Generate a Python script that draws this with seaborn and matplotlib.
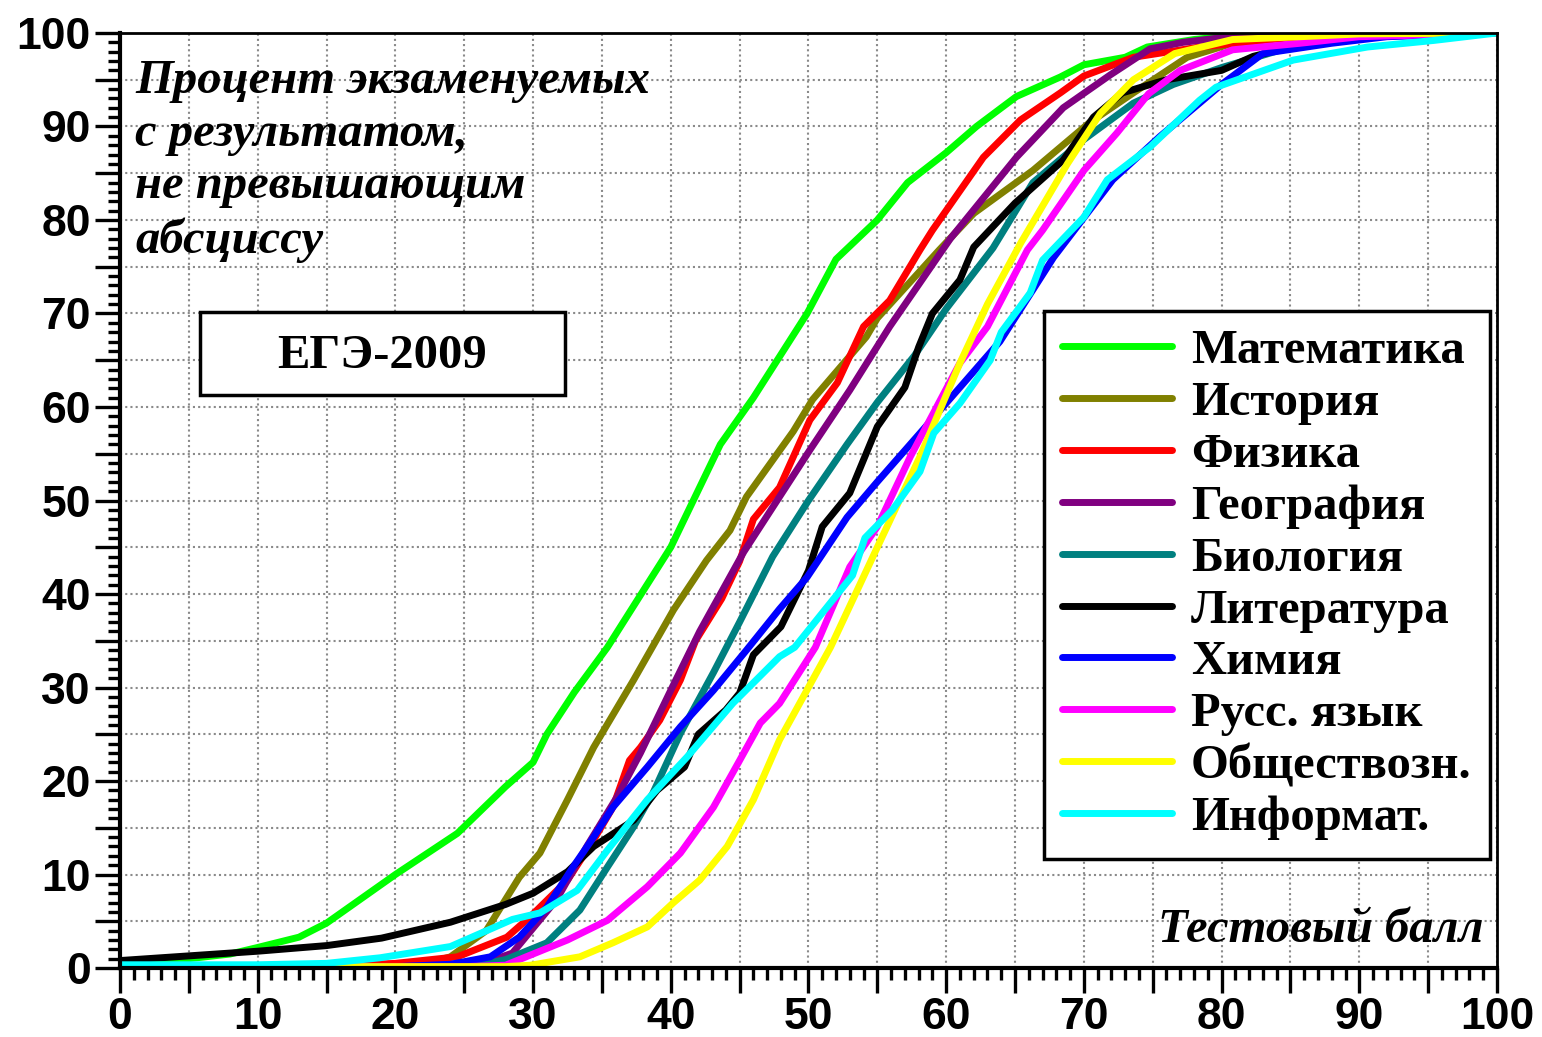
import matplotlib
matplotlib.use("Agg")
from matplotlib import pyplot as plt
from matplotlib.patches import Rectangle
from matplotlib.ticker import MultipleLocator
import seaborn as sns

# --- data (score -> % of examinees with score <= x) ---
subjects = ["Математика", "История", "Физика", "География", "Биология",
            "Литература", "Химия", "Русс. язык", "Обществозн.", "Информат."]
colors = ["#00ff00", "#808000", "#ff0000", "#800080", "#008080",
          "#000000", "#0000ff", "#ff00ff", "#ffff00", "#00ffff"]

math_x = [0, 5, 8, 10, 13, 15, 20, 24.5, 28, 30, 31, 33, 35.4, 40, 43.6, 46, 49.9, 52, 55, 57.2,
          60, 62.2, 65.1, 68.3, 70, 73, 74.6, 78, 80, 85, 90, 100]
math_y = [0.5, 1.0, 1.5, 2.2, 3.3, 4.8, 10.0, 14.4, 19.4, 22, 25, 29.5, 34.3, 45, 56, 61, 70, 75.8, 80, 84,
          87.2, 90, 93.2, 95.3, 96.6, 97.4, 98.5, 99.3, 99.6, 99.9, 100, 100]

hist_x = [0, 20, 22, 24, 26.6, 29, 30.5, 32.5, 34.4, 37.3, 40.2, 42.6, 44.3, 45.5, 48.9, 50.3,
          54.2, 55, 59.5, 62, 66.3, 70.4, 73.6, 77.5, 80.8, 85, 90, 100]
hist_y = [0.15, 0.15, 0.4, 1.2, 4, 9.7, 12.3, 18, 23.6, 30.8, 38.3, 43.6, 46.8, 50.4, 57.4, 60.8,
          67.5, 69.5, 76.8, 80.7, 85.3, 90.4, 93.6, 97.4, 98.9, 99.6, 100, 100]

phys_x = [0, 15, 20, 24.5, 28.1, 29.8, 32.5, 34.4, 35.8, 37, 37.8, 39.2, 40.7, 41.8, 43.7, 45, 46,
          47.9, 50.1, 52.1, 54, 55.9, 58.1, 59, 62.7, 65.4, 68.3, 70, 73.6, 78.4, 85, 90, 100]
phys_y = [0.15, 0.2, 0.5, 1.2, 3.3, 5.5, 9.4, 13.7, 17.2, 22.2, 23.6, 26.5, 30.8, 35, 39.5, 43.5, 48,
          51.4, 58.6, 62.6, 68.6, 71.4, 76.8, 78.9, 86.7, 90.7, 93.6, 95.4, 97.4, 98.5, 99.5, 99.9, 100]

geo_x = [0, 20, 26, 28.5, 31.7, 33.9, 36.1, 37.8, 39.9, 42.1, 45.3, 50.1, 53, 55.9, 60.3, 65.1,
         68.5, 71.9, 74.8, 77.2, 80, 85, 100]
geo_y = [0.15, 0.15, 0.3, 1.6, 7.3, 13, 18.3, 23, 29.4, 36, 44.5, 55.4, 61.8, 68.6, 78, 86.7,
         92, 95.5, 98.3, 99, 99.5, 99.9, 100]

bio_x = [0, 22, 26, 28, 31, 33.4, 35.4, 37.3, 38.7, 40.7, 43.1, 45, 47.4, 50, 52.8, 55, 57.7, 60,
         63.4, 66.3, 70, 73.6, 76.5, 80, 85, 90, 100]
bio_y = [0.15, 0.15, 0.3, 0.9, 2.7, 6.2, 10.8, 15.1, 18.7, 25.1, 31.6, 37, 44, 50, 56, 60.5, 65.5, 70.5,
         77, 84, 88.6, 92.5, 94.5, 96.3, 98.5, 99.6, 100]

lit_x = [0, 5, 10, 15, 19, 24, 28, 30, 32.5, 34.4, 37.3, 39, 41, 42, 44, 45, 46, 48, 50, 51, 53,
         55, 57, 58, 59, 61, 62, 65, 68.5, 70.7, 72.8, 76, 80, 82.3, 85, 90, 95, 100]
lit_y = [0.8, 1.3, 1.8, 2.4, 3.2, 4.9, 6.8, 8, 10.3, 13, 15.8, 19, 21.5, 25, 27.6, 29.4, 33.5, 36.5, 42.5, 47.2, 50.8,
         57.9, 62.1, 66.4, 70, 73.6, 77.1, 81.8, 86.4, 91, 93.6, 95, 96, 97.5, 98.5, 99.5, 99.9, 100]

chem_x = [0, 20, 24, 26.9, 29, 31, 32.9, 34.4, 35.8, 38.3, 40.7, 43.1, 45.5, 47.9, 49.9, 52.8, 55,
          58.1, 61, 63.9, 67.8, 72.1, 75.5, 78.4, 80, 83, 88, 92, 100]
chem_y = [0.15, 0.15, 0.4, 1.2, 3.3, 6.5, 10.8, 14, 17.2, 21.5, 25.8, 29.7, 34, 38.4, 41.8, 48.2, 52,
          57.2, 62.1, 67, 76, 84.3, 88.9, 92.5, 94.5, 97.8, 98.9, 99.6, 100]

rus_x = [0, 25, 28, 29.5, 32.5, 35.4, 38.3, 40.7, 43.1, 45, 46.5, 47.9, 50.5, 53, 55, 57.4, 61, 63,
         65.9, 67, 70, 72.4, 74.7, 77, 80.8, 85.7, 90, 100]
rus_y = [0.15, 0.15, 0.3, 1.2, 3, 5.1, 8.7, 12.3, 17.2, 22.2, 26.2, 28.3, 34.3, 42.9, 47.2, 54.7, 64.7, 68.6,
         76.8, 78.9, 85.3, 89.3, 93.5, 96, 98.2, 98.9, 99.6, 100]

soc_x = [0, 28, 29.8, 33.4, 35.8, 38.3, 40.2, 42.1, 44.1, 46, 47.9, 51.6, 55, 58.1, 61, 63, 65.4,
         68.8, 71.2, 73.6, 76.6, 80.8, 85.7, 90, 100]
soc_y = [0.15, 0.15, 0.3, 1.2, 2.7, 4.4, 7, 9.4, 13, 18, 24.4, 34.3, 45, 54.7, 64.7, 71, 77.5,
         86, 91.4, 95, 97.8, 99.3, 99.6, 99.9, 100]

inf_x = [0, 10, 15, 18.9, 24, 28.5, 30.5, 33.2, 35.4, 38.3, 41.2, 44.5, 47.9, 49, 53.2, 54.1, 56.1,
         58.1, 59.1, 61, 63.2, 64, 66.1, 67, 70, 71.7, 74.8, 78.4, 79.6, 85.2, 90.6, 95.4, 100]
inf_y = [0.35, 0.35, 0.5, 1.1, 2.3, 5.2, 5.9, 8.3, 12.6, 18, 22.6, 28.3, 33.3, 34.3, 42, 46, 49,
         53.1, 57.2, 60.4, 65, 68, 72.2, 75.7, 80.3, 84.3, 87.8, 92.8, 94.2, 97.1, 98.5, 99.2, 100]

series_x = [math_x, hist_x, phys_x, geo_x, bio_x, lit_x, chem_x, rus_x, soc_x, inf_x]
series_y = [math_y, hist_y, phys_y, geo_y, bio_y, lit_y, chem_y, rus_y, soc_y, inf_y]

major_ticks = list(range(0, 101, 5))
tick_labels = [str(v) if v % 10 == 0 else "" for v in major_ticks]

sns.set_style("white")
plt.rcParams["font.family"] = ["Liberation Sans", "DejaVu Sans"]
plt.rcParams["text.color"] = "black"
plt.rcParams["xtick.color"] = "black"
plt.rcParams["ytick.color"] = "black"
plt.rcParams["axes.labelcolor"] = "black"

fig, ax = plt.subplots(figsize=(15.42, 10.37), dpi=100)
fig.subplots_adjust(left=0.0778, right=0.9708, bottom=0.0665, top=0.9682)

for name, xs, ys, color in zip(subjects, series_x, series_y, colors):
    sns.lineplot(x=xs, y=ys, color=color, linewidth=5, label=name, ax=ax)

ax.set_xlim(0, 100)
ax.set_ylim(0, 100)
ax.set_xlabel("")
ax.set_ylabel("")

# ticks: long every 5, short every 1, labels every 10
ax.set_xticks(major_ticks)
ax.set_yticks(major_ticks)
ax.set_xticklabels(tick_labels)
ax.set_yticklabels(tick_labels)
ax.xaxis.set_minor_locator(MultipleLocator(1))
ax.yaxis.set_minor_locator(MultipleLocator(1))
ax.tick_params(which="major", direction="out", length=18, width=2.4, colors="black",
               labelsize=32, pad=3, bottom=True, left=True)
ax.tick_params(which="minor", direction="out", length=8.5, width=2.4, color="black",
               bottom=True, left=True)
for lbl in ax.get_xticklabels() + ax.get_yticklabels():
    lbl.set_fontweight("bold")

ax.grid(True, which="major", color="#8a8a8a", linestyle=(0, (1, 1.5)), linewidth=1.5)
ax.set_axisbelow(True)

for side in ["left", "bottom"]:
    ax.spines[side].set_linewidth(3)
    ax.spines[side].set_color("black")
for side in ["top", "right"]:
    ax.spines[side].set_linewidth(2)
    ax.spines[side].set_color("black")

serif_bi = dict(family="Liberation Serif", fontweight="bold", fontstyle="italic", fontsize=35,
                color="black")
ax.text(0.011, 0.972, "Процент экзаменуемых\nс результатом,\nне превышающим\nабсциссу",
        transform=ax.transAxes, ha="left", va="top", linespacing=1.25, **serif_bi)
ax.text(0.99, 0.028, "Тестовый балл", transform=ax.transAxes, ha="right", va="baseline", **serif_bi)

ax.add_patch(Rectangle((0.058, 0.613), 0.265, 0.089, transform=ax.transAxes,
                       facecolor="white", edgecolor="black", linewidth=2.5, zorder=4))
ax.text(0.19, 0.655, "ЕГЭ-2009", transform=ax.transAxes, ha="center", va="center",
        family="Liberation Serif", fontweight="bold", fontsize=35, color="black", zorder=5)

leg = ax.legend(loc="upper right", bbox_to_anchor=(0.995, 0.703), borderaxespad=0,
                prop={"family": "Liberation Serif", "weight": "bold", "size": 35},
                handlelength=2.26, handletextpad=0.39, labelspacing=0.16, borderpad=0.38,
                frameon=True, fancybox=False, edgecolor="black", framealpha=1)
leg.get_frame().set_linewidth(2.5)
for txt in leg.get_texts():
    txt.set_color("black")

fig.savefig("out.png", dpi=100)
